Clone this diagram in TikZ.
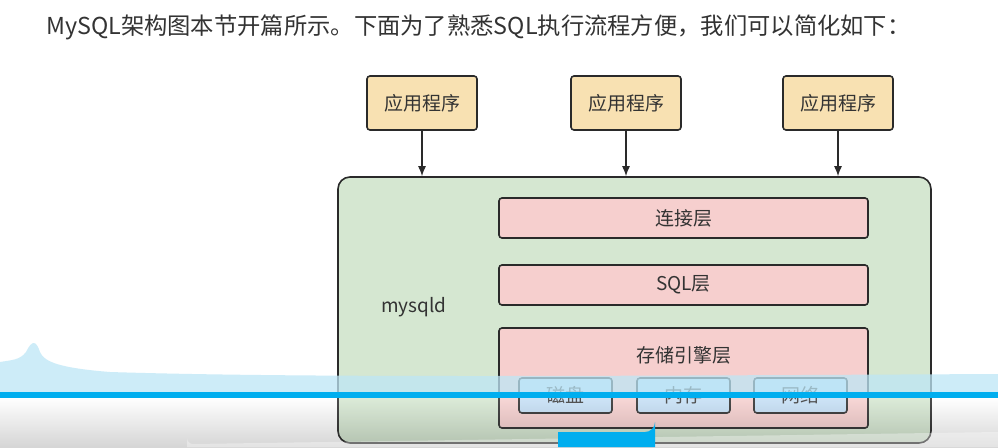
\documentclass[tikz,border=0pt]{standalone}
\usepackage{fontspec}
\setmainfont{Noto Sans CJK SC}
\newfontfamily\cjk{Noto Sans CJK SC}
\usetikzlibrary{arrows.meta}
\definecolor{txt}{HTML}{333333}
\definecolor{appfill}{HTML}{F8E1B2}
\definecolor{grnfill}{HTML}{D5E7D1}
\definecolor{redfill}{HTML}{F6CFCE}
\definecolor{bluefill}{HTML}{C4DFF6}
\definecolor{edge}{HTML}{2A2A2A}
\definecolor{overlayblue}{HTML}{00AEEF}
\definecolor{bandblue}{HTML}{BDE6F6}
\tikzset{
  appbox/.style={draw=edge, line width=1.6pt, fill=appfill, rounded corners=3pt,
    minimum width=110pt, minimum height=54pt, inner sep=0pt, font=\fontsize{19}{22}\selectfont, text=txt},
  layerbox/.style={draw=edge, line width=1.6pt, fill=redfill, rounded corners=3pt,
    minimum width=369pt, minimum height=40pt, inner sep=0pt, font=\fontsize{19}{22}\selectfont, text=txt},
  subbox/.style={draw=edge, line width=1.6pt, fill=bluefill, rounded corners=3pt,
    minimum width=93pt, minimum height=35pt, inner sep=0pt, font=\fontsize{19}{22}\selectfont, text=txt},
  lbl/.style={inner sep=0pt, font=\fontsize{19}{22}\selectfont, text=txt},
  conn/.style={draw=edge, line width=1.3pt, -{Latex[length=10pt,width=8pt]}}
}
\begin{document}
\begin{tikzpicture}[x=1pt,y=-1pt]
\useasboundingbox (0,0) rectangle (998,447);
\fill[white] (0,0) rectangle (998,447);
% header
\node[anchor=west, inner sep=0pt, font=\fontsize{23.3}{26}\selectfont, text=txt] (hdr) at (46,27)
  {MySQL架构图本节开篇所示。下面为了熟悉SQL执行流程方便，我们可以简化如下：};
% mysqld container
\node[draw=edge, line width=1.6pt, fill=grnfill, rounded corners=12pt, minimum width=593pt,
  minimum height=266pt, inner sep=0pt] (mysqld) at (634.5,310) {};
\node[lbl] (mlabel) at (414,307) {mysqld};
% apps
\node[appbox] (app1) at (422,103) {应用程序};
\node[appbox] (app2) at (626,103) {应用程序};
\node[appbox] (app3) at (838,103) {应用程序};
\draw[conn] (app1.south) -- (app1.south |- mysqld.north);
\draw[conn] (app2.south) -- (app2.south |- mysqld.north);
\draw[conn] (app3.south) -- (app3.south |- mysqld.north);
% layers
\node[layerbox] (conn) at (683.5,218) {连接层};
\node[layerbox] (sql) at (683.5,285) {SQL层};
\node[layerbox, minimum height=100pt] (store) at (683.5,378) {};
\node[lbl] (storelbl) at (683.5,355) {存储引擎层};
\node[subbox] (disk) at (565.5,395.5) {磁盘};
\node[subbox] (mem) at (683.5,395.5) {内存};
\node[subbox] (net) at (800.5,395.5) {网络};
% video overlay
\fill[bandblue, opacity=0.75] (0,392) -- (0,362) .. controls (12,360) and (20,360) .. (26,352)
  .. controls (32,340) and (36,340) .. (40,352) .. controls (44,362) and (60,368) .. (110,372)
  .. controls (300,378) and (600,376) .. (998,374) -- (998,392) -- cycle;
\fill[overlayblue] (0,392) rectangle (998,398);
\shade[top color=white, bottom color=black, opacity=0.16] (0,398) rectangle (998,447);
\fill[white, opacity=0.35] (187,447) -- (187,438) arc[start angle=180, end angle=270, radius=6pt] -- (998,432) -- (998,447) -- cycle;
\fill[overlayblue] (558,447) -- (558,432) -- (645,432) arc[start angle=-90, end angle=0, radius=10pt] -- (655,447) -- cycle;
\end{tikzpicture}
\end{document}
